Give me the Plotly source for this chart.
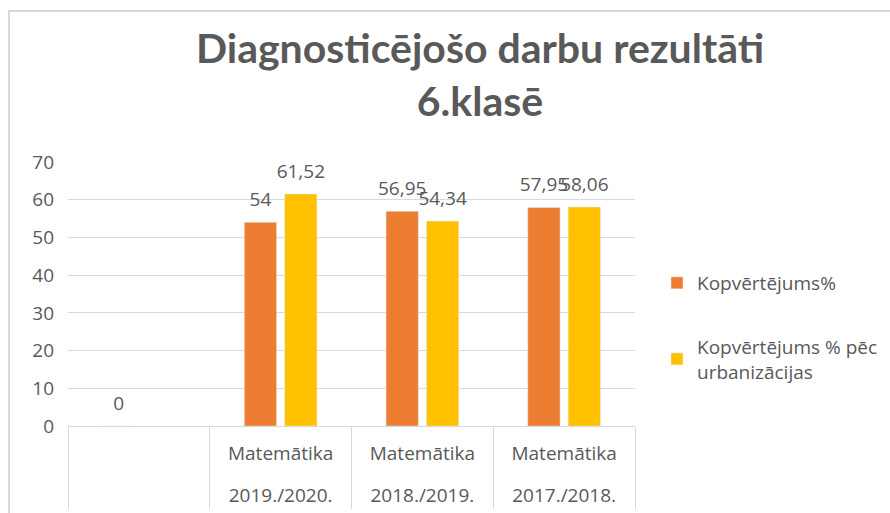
import plotly.graph_objects as go

# ---- data ----
subjects = ["", "Matemātika", "Matemātika", "Matemātika"]
years = ["", "2019./2020.", "2018./2019.", "2017./2018."]
series_names = ["Kopvērtējums%", "Kopvērtējums % pēc<br>urbanizācijas"]
kopvertejums = [0, 54, 56.95, 57.95]
kopvertejums_urb = [None, 61.52, 54.34, 58.06]
y_ticks = [0, 10, 20, 30, 40, 50, 60, 70]

colors = ["#ED7D31", "#FFC000"]
FONT = "Open Sans"
TFONT = "Lato"
GRAY = "#595959"
FS = 19

W, H = 890, 513
ML, MR, MT, MB = 68, 255, 162, 87

cat_ids = [f"c{i}" for i in range(len(subjects))]
cat_range = [-0.5, len(cat_ids) - 0.5]


def fmt(v):
    if v is None:
        return None
    return f"{v:g}".replace(".", ",")


fig = go.Figure()
for name, vals, col, grp in [
    (series_names[0], kopvertejums, colors[0], "a"),
    (series_names[1], kopvertejums_urb, colors[1], "b"),
]:
    fig.add_trace(go.Bar(
        x=cat_ids, y=vals, name=name, marker_color=col,
        legendgroup=grp, offsetgroup=grp,
    ))
for vals, grp in [(kopvertejums, "a"), (kopvertejums_urb, "b")]:
    fig.add_trace(go.Scatter(
        x=cat_ids, y=vals, mode="text+markers",
        marker=dict(size=17, opacity=0),
        text=[fmt(v) for v in vals], textposition="top center",
        textfont=dict(family=FONT, size=FS, color=GRAY),
        showlegend=False, hoverinfo="skip", offsetgroup=grp,
    ))
# invisible carrier trace so the second category axis (year line) is drawn
fig.add_trace(go.Scatter(
    x=cat_ids, y=kopvertejums, xaxis="x2", yaxis="y", mode="markers",
    marker=dict(size=1, opacity=0), showlegend=False, hoverinfo="skip",
))

# chart border
pw = W - ML - MR
ph = H - MT - MB
fig.add_shape(type="rect", xref="paper", yref="paper",
              x0=(9 - ML) / pw, x1=(W + 20 - ML) / pw,
              y0=(H - 600 - MB) / ph, y1=(H - 11 - MB) / ph,
              line=dict(color="#d9d9d9", width=2), fillcolor="rgba(0,0,0,0)",
              layer="below")

fig.update_layout(
    width=W, height=H,
    margin=dict(l=ML, r=MR, t=MT, b=MB, autoexpand=False),
    paper_bgcolor="white", plot_bgcolor="white",
    barmode="group", bargap=0.43, bargroupgap=0.2,
    scattermode="group", scattergap=0.43,
    title=dict(
        text="<b>Diagnosticējošo darbu rezultāti<br>6.klasē</b>",
        x=480 / W, xanchor="center", xref="container",
        y=1 - 63 / H, yanchor="top", yref="container",
        font=dict(family=TFONT, size=41, color=GRAY),
    ),
    legend=dict(
        xref="container", yref="container",
        x=657 / W, xanchor="left",
        y=1 - 264 / H, yanchor="top",
        font=dict(family=FONT, size=FS, color=GRAY),
        tracegroupgap=36, itemwidth=30,
    ),
    xaxis=dict(
        type="category", tickmode="array", tickvals=cat_ids, ticktext=subjects,
        categoryorder="array", categoryarray=cat_ids, range=cat_range,
        showline=True, linecolor="#d9d9d9", linewidth=1,
        ticks="outside", tickson="boundaries", ticklen=82, tickcolor="#d9d9d9",
        ticklabelstandoff=10, automargin=False,
        tickfont=dict(family=FONT, size=FS, color=GRAY),
        showgrid=False, fixedrange=True,
    ),
    xaxis2=dict(
        type="category", tickmode="array", tickvals=cat_ids, ticktext=years,
        categoryorder="array", categoryarray=cat_ids, range=cat_range,
        overlaying="x", anchor="y", side="bottom",
        showline=False, ticks="", showgrid=False, zeroline=False,
        ticklabelstandoff=56, automargin=False,
        tickfont=dict(family=FONT, size=FS, color=GRAY),
        fixedrange=True,
    ),
    yaxis=dict(
        range=[0, 70], tickvals=y_ticks,
        showgrid=True, gridcolor="#d9d9d9", gridwidth=1,
        zeroline=False, showline=False,
        ticklabelstandoff=13, automargin=False,
        tickfont=dict(family=FONT, size=FS, color=GRAY),
        fixedrange=True,
    ),
    showlegend=True,
)

fig.write_html("out.html", config={"displayModeBar": False},
               post_script="document.body.style.margin='0';")
